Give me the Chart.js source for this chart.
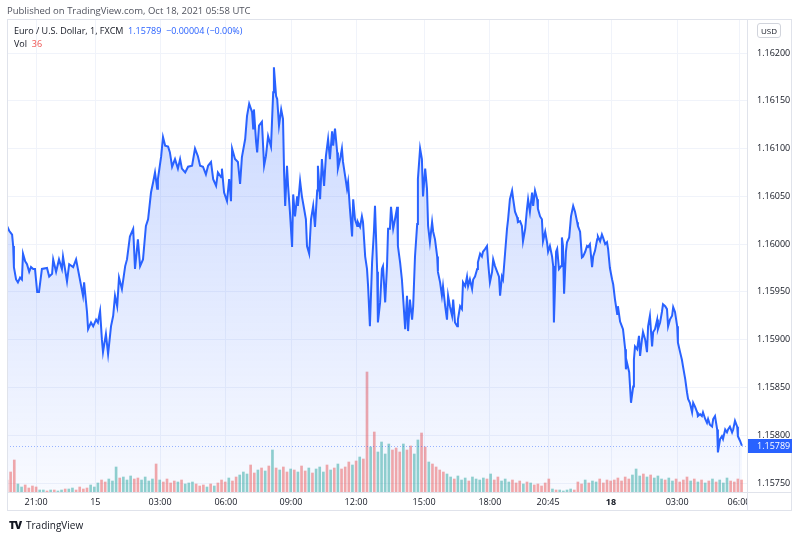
<!DOCTYPE html>
<html>
<head>
<meta charset="utf-8">
<script src="https://cdn.jsdelivr.net/npm/chart.js@4.4.0/dist/chart.umd.min.js"></script>
<style>
  body { margin: 0; background: #fff; font-family: "Open Sans", sans-serif; }
  #wrap { position: relative; width: 800px; height: 538px; overflow: hidden; }
  canvas { position: absolute; left: 0; top: 0; }
  .t { position: absolute; white-space: nowrap; color: #131722; line-height: 1; }
</style>
</head>
<body>
<div id="wrap">
  <canvas id="chart" width="800" height="538"></canvas>
  <div class="t" style="left:7px;top:6px;font-size:9.5px;color:#50535e">Published on TradingView.com, Oct 18, 2021 05:58 UTC</div>
  <div class="t" style="left:14px;top:26px;font-size:9px">Euro / U.S. Dollar, 1, FXCM&nbsp;&nbsp;<span style="color:#2962ff">1.15789&nbsp;&nbsp;−0.00004 (−0.00%)</span></div>
  <div class="t" style="left:14px;top:39px;font-size:9px">Vol&nbsp;&nbsp;<span style="color:#ef5350">36</span></div>
  <div class="t" style="left:757px;top:23px;width:22px;height:13px;border:1px solid #d1d4dc;border-radius:3px;font-size:8px;text-align:center;line-height:13px">USD</div>
  <div class="t" style="left:9px;top:519px;font-size:11px;font-weight:900;letter-spacing:-1px">TV</div>
  <div class="t" style="left:26px;top:520px;font-size:10px">TradingView</div>
</div>
<script>
// EUR/USD 1 min, FXCM - [minutes from chart start, close]
const eurusd = [
  [0,1.16019],[6,1.16014],[14,1.16010],[17,1.15998],[19,1.15976],[25,1.15963],[30,1.15960],[36,1.15965],[41,1.15963],[44,1.15990],
  [50,1.15982],[55,1.15979],[61,1.15971],[66,1.15976],[72,1.15974],[77,1.15974],[83,1.15950],[88,1.15950],[96,1.15974],[110,1.15975],
  [116,1.15966],[124,1.15969],[127,1.15984],[135,1.15971],[143,1.15984],[151,1.15974],[154,1.15987],[165,1.15961],[171,1.15979],[182,1.15976],
  [190,1.15984],[195,1.15974],[204,1.15956],[209,1.15946],[212,1.15960],[220,1.15929],[223,1.15911],[231,1.15918],[237,1.15914],[245,1.15921],
  [250,1.15918],[256,1.15930],[261,1.15900],[264,1.15887],[272,1.15906],[278,1.15885],[286,1.15914],[292,1.15925],[297,1.15946],[303,1.15935],
  [308,1.15965],[316,1.15953],[325,1.15977],[330,1.15984],[338,1.16008],[347,1.16016],[352,1.15974],[360,1.16005],[366,1.15977],[374,1.15984],
  [382,1.16019],[388,1.16026],[396,1.16054],[402,1.16065],[407,1.16075],[413,1.16058],[415,1.16068],[424,1.16092],[429,1.16112],[435,1.16103],
  [443,1.16102],[448,1.16096],[454,1.16081],[462,1.16089],[470,1.16079],[476,1.16089],[481,1.16079],[490,1.16075],[498,1.16081],[509,1.16082],
  [517,1.16100],[525,1.16092],[531,1.16082],[539,1.16081],[547,1.16073],[553,1.16082],[561,1.16086],[567,1.16068],[575,1.16061],[580,1.16075],
  [589,1.16070],[591,1.16079],[597,1.16054],[605,1.16045],[611,1.16068],[616,1.16045],[619,1.16100],[627,1.16089],[635,1.16086],[641,1.16063],
  [646,1.16091],[655,1.16110],[660,1.16134],[666,1.16147],[674,1.16138],[677,1.16121],[679,1.16141],[685,1.16107],[688,1.16096],[693,1.16124],
  [701,1.16128],[707,1.16082],[712,1.16092],[718,1.16113],[726,1.16102],[732,1.16159],[734,1.16185],[740,1.16155],[743,1.16152],[748,1.16124],
  [754,1.16141],[759,1.16131],[762,1.16075],[765,1.16040],[770,1.16082],[773,1.16061],[778,1.16034],[784,1.15997],[787,1.16052],[792,1.16029],
  [798,1.16050],[800,1.16040],[806,1.16066],[811,1.16050],[817,1.16037],[822,1.16026],[825,1.15998],[831,1.15990],[836,1.16026],[842,1.16040],
  [847,1.16018],[853,1.16056],[855,1.16082],[861,1.16047],[866,1.16089],[872,1.16061],[877,1.16092],[883,1.16110],[888,1.16089],[894,1.16118],
  [897,1.16103],[902,1.16121],[908,1.16096],[910,1.16079],[916,1.16089],[921,1.16100],[924,1.16086],[930,1.16071],[935,1.16058],[938,1.16065],
  [943,1.16037],[949,1.16008],[952,1.16047],[957,1.16026],[963,1.16019],[965,1.16023],[971,1.16018],[976,1.16029],[979,1.16023],[985,1.15987],
  [990,1.15974],[993,1.15956],[998,1.15914],[1004,1.15981],[1009,1.16013],[1012,1.16040],[1018,1.15971],[1020,1.15918],[1026,1.15939],[1031,1.15974],
  [1034,1.15977],[1040,1.15939],[1045,1.15977],[1048,1.16016],[1053,1.16016],[1056,1.16039],[1062,1.16016],[1067,1.16026],[1073,1.16039],[1075,1.15998],
  [1081,1.15981],[1086,1.15963],[1089,1.15946],[1095,1.15911],[1100,1.15946],[1103,1.15909],[1108,1.15942],[1114,1.15921],[1117,1.15935],[1122,1.15987],
  [1128,1.16021],[1130,1.16068],[1136,1.16100],[1141,1.16089],[1144,1.16050],[1150,1.16079],[1155,1.16058],[1158,1.16019],[1163,1.16002],[1169,1.16023],
  [1172,1.16013],[1177,1.16005],[1183,1.15987],[1185,1.15971],[1191,1.15960],[1196,1.15946],[1199,1.15956],[1205,1.15935],[1210,1.15921],[1213,1.15946],
  [1218,1.15935],[1224,1.15925],[1227,1.15942],[1232,1.15918],[1238,1.15914],[1240,1.15921],[1246,1.15935],[1251,1.15932],[1254,1.15960],[1260,1.15956],
  [1265,1.15966],[1268,1.15956],[1273,1.15963],[1279,1.15953],[1282,1.15963],[1287,1.15966],[1293,1.15974],[1295,1.15981],[1301,1.15990],[1306,1.15987],
  [1309,1.15992],[1315,1.15995],[1320,1.15998],[1323,1.15981],[1328,1.15960],[1334,1.15971],[1337,1.15984],[1342,1.15977],[1348,1.15971],[1353,1.15966],
  [1356,1.15946],[1361,1.15966],[1364,1.15963],[1370,1.15992],[1375,1.16016],[1378,1.16026],[1383,1.16047],[1389,1.16056],[1392,1.16047],[1397,1.16034],
  [1403,1.16028],[1405,1.16023],[1411,1.16024],[1416,1.16019],[1419,1.16003],[1425,1.16016],[1430,1.16037],[1433,1.16047],[1438,1.16034],[1444,1.16054],
  [1447,1.16040],[1452,1.16056],[1458,1.16047],[1460,1.16037],[1466,1.16029],[1471,1.16026],[1474,1.16003],[1480,1.16013],[1485,1.16002],[1488,1.15992],
  [1493,1.15998],[1499,1.15987],[1502,1.15977],[1504,1.15918],[1510,1.15992],[1513,1.15995],[1518,1.15974],[1524,1.15977],[1526,1.16007],[1529,1.15998],
  [1532,1.15948],[1537,1.15992],[1540,1.16002],[1546,1.16007],[1551,1.16029],[1557,1.16040],[1562,1.16034],[1568,1.16023],[1570,1.16019],[1576,1.16013],
  [1581,1.15986],[1584,1.15987],[1590,1.15992],[1595,1.15998],[1598,1.15997],[1603,1.16000],[1609,1.15976],[1612,1.15987],[1617,1.15993],[1623,1.16005],
  [1625,1.16008],[1631,1.16003],[1636,1.16010],[1639,1.16007],[1645,1.16000],[1650,1.16002],[1653,1.15995],[1658,1.15975],[1664,1.15963],[1667,1.15958],
  [1672,1.15942],[1678,1.15927],[1680,1.15935],[1686,1.15919],[1691,1.15914],[1694,1.15911],[1700,1.15890],[1702,1.15869],[1705,1.15876],[1711,1.15866],
  [1716,1.15834],[1722,1.15851],[1724,1.15879],[1727,1.15893],[1733,1.15890],[1738,1.15904],[1741,1.15883],[1746,1.15900],[1749,1.15908],[1755,1.15900],
  [1760,1.15887],[1763,1.15914],[1768,1.15925],[1774,1.15893],[1777,1.15908],[1782,1.15911],[1788,1.15921],[1790,1.15911],[1796,1.15918],[1801,1.15929],
  [1804,1.15937],[1810,1.15935],[1815,1.15932],[1818,1.15914],[1823,1.15921],[1829,1.15925],[1832,1.15934],[1837,1.15929],[1843,1.15914],[1845,1.15897],
  [1851,1.15887],[1856,1.15879],[1859,1.15872],[1865,1.15859],[1870,1.15845],[1873,1.15838],[1878,1.15834],[1884,1.15824],[1887,1.15834],[1892,1.15830],
  [1898,1.15824],[1900,1.15820],[1906,1.15822],[1911,1.15820],[1914,1.15824],[1920,1.15817],[1925,1.15813],[1928,1.15817],[1933,1.15811],[1939,1.15809],
  [1942,1.15817],[1947,1.15820],[1953,1.15806],[1955,1.15782],[1961,1.15796],[1966,1.15799],[1969,1.15796],[1975,1.15806],[1980,1.15803],[1983,1.15806],
  [1988,1.15809],[1994,1.15803],[1997,1.15806],[2002,1.15815],[2008,1.15809],[2010,1.15799],[2016,1.15794],[2021,1.15789]
]

// volume, one bar per 10 minutes
const volumes = [
  36,60,96,24, 15,21,12,18,15, 6,6,3,6,6,3,6,9, 9,12,6,15,9,12,21,15,
  27,36,30,39,33,75, 42,45,36,48,39,42,36,45,33,39,84,
  36,30,39,27,33,30,36,24,27,30,24, 18,21,15,24,18,27, 36,30,42,33,45,51,
  60,54,81,57,66,72,63,78, 126,72,66,75,60,69,
  66,60,78,63,72,57,69,75,60,81,66,72,84,69, 75,90,81,93,105,99,
  360,135,180,120,150,114,144,126, 132,120,144,126,138,114,156,177,135,90,
  84,75,66,60,54, 45,39,48,36,42,33,45,39,36,42, 39,54,36,45,33,39,30,36,27,33,
  24,30,27,21,24,18,27,39, 9,6,6,3,6,9,6, 30,24,36,27,33,30,39,27,36,33,
  36,42,33,45,39,51,69,48,54, 45,51,42,48,39,
  36,42,33,39,30,36,45,33,39,30,36, 27,33,39,30,36,27,42,33,30,39,36
]
const volStep = 10

// time axis
const timeLabels = ['21:00', '15', '03:00', '06:00', '09:00', '12:00', '15:00', '18:00', '20:45', '18', '03:00', '06:00']
const timeTicks = [80, 243, 421, 602, 781, 960, 1147, 1328, 1488, 1661, 1843, 2013]

// price axis
const priceTicks = [1.1575, 1.158, 1.1585, 1.159, 1.1595, 1.16, 1.1605, 1.161, 1.1615, 1.162]
const lastPrice = 1.15789

// price at a given minute (last close at or before it)
function priceAt(m) {
  let p = eurusd[0][1]
  for (const pt of eurusd) { if (pt[0] <= m) p = pt[1]; else break }
  return p
}

const volColors = volumes.map((v, i) => {
  let up = priceAt(i * volStep + volStep) >= priceAt(i * volStep)
  return up ? 'rgba(38, 166, 154, 0.5)' : 'rgba(239, 83, 80, 0.5)'
})

// borders, last price line and label
const frame = {
  id: 'frame',
  afterDraw(chart) {
    const c = chart.ctx
    const a = chart.chartArea
    const y = chart.scales.y.getPixelForValue(lastPrice)
    c.save()
    // hide time label spilling under the price axis
    c.fillStyle = '#fff'
    c.fillRect(a.right + 1, a.bottom + 1, 791 - a.right - 1, 18)
    // dotted last price line
    c.strokeStyle = 'rgba(41, 98, 255, 0.45)'
    c.lineWidth = 1
    c.setLineDash([1, 2])
    c.beginPath()
    c.moveTo(a.left, Math.round(y) + 0.5)
    c.lineTo(a.right, Math.round(y) + 0.5)
    c.stroke()
    c.setLineDash([])
    // panel borders
    c.strokeStyle = '#e0e3eb'
    c.strokeRect(7.5, 19.5, 784, 491)
    c.beginPath()
    c.moveTo(a.right + 0.5, 19); c.lineTo(a.right + 0.5, 511)
    c.moveTo(7, a.bottom + 0.5); c.lineTo(792, a.bottom + 0.5)
    c.stroke()
    // last price label
    c.fillStyle = '#2962ff'
    c.fillRect(a.right + 1, Math.round(y) - 7, 44, 14)
    c.fillStyle = '#fff'
    c.font = '9px "Open Sans"'
    c.textBaseline = 'middle'
    c.fillText(lastPrice.toFixed(5), a.right + 10, Math.round(y) + 0.5)
    c.restore()
  }
}

let ctx = document.getElementById('chart')
new Chart(ctx, {
  data: {
    datasets: [{
      type: 'line',
      data: eurusd.map(p => ({ x: p[0], y: p[1] })),
      borderColor: '#2962ff',
      borderWidth: 2,
      pointRadius: 0,
      tension: 0,
      fill: 'start',
      backgroundColor: (c) => {
        const a = c.chart.chartArea
        if (!a) return 'rgba(41, 98, 255, 0.1)'
        const g = c.chart.ctx.createLinearGradient(0, a.top, 0, a.bottom)
        g.addColorStop(0, 'rgba(41, 98, 255, 0.28)')
        g.addColorStop(1, 'rgba(41, 98, 255, 0.03)')
        return g
      },
      yAxisID: 'y',
      order: 0
    }, {
      type: 'bar',
      data: volumes.map((v, i) => ({ x: i * volStep, y: v })),
      backgroundColor: volColors,
      barThickness: 2,
      yAxisID: 'v',
      order: 1
    }]
  },
  options: {
    responsive: false,
    animation: false,
    devicePixelRatio: 1,
    layout: { padding: { left: 7, top: 19, right: 8, bottom: 27 } },
    plugins: { legend: { display: false }, tooltip: { enabled: false } },
    scales: {
      x: {
        type: 'linear',
        min: 0,
        max: 2035,
        offset: false,
        afterBuildTicks: s => { s.ticks = timeTicks.map(v => ({ value: v })) },
        afterFit: s => { s.height = 19 },
        ticks: {
          callback: (v, i) => timeLabels[i],
          autoSkip: false,
          maxRotation: 0,
          padding: 5,
          color: '#131722',
          font: c => ({ family: 'Open Sans', size: 9, weight: timeLabels[c.index] === '18' ? 'bold' : 'normal' })
        },
        grid: { color: '#f0f3fa', drawTicks: false, offset: false },
        border: { display: false }
      },
      y: {
        position: 'right',
        min: 1.157406,
        max: 1.162356,
        afterBuildTicks: s => { s.ticks = priceTicks.map(v => ({ value: v })) },
        afterFit: s => { s.width = 45 },
        ticks: {
          callback: v => v.toFixed(5),
          padding: 10,
          color: '#131722',
          font: { family: 'Open Sans', size: 9 }
        },
        grid: { color: '#f0f3fa', drawTicks: false },
        border: { display: false }
      },
      v: { display: false, min: 0, max: 1419 }
    }
  },
  plugins: [frame]
})
</script>
</body>
</html>
